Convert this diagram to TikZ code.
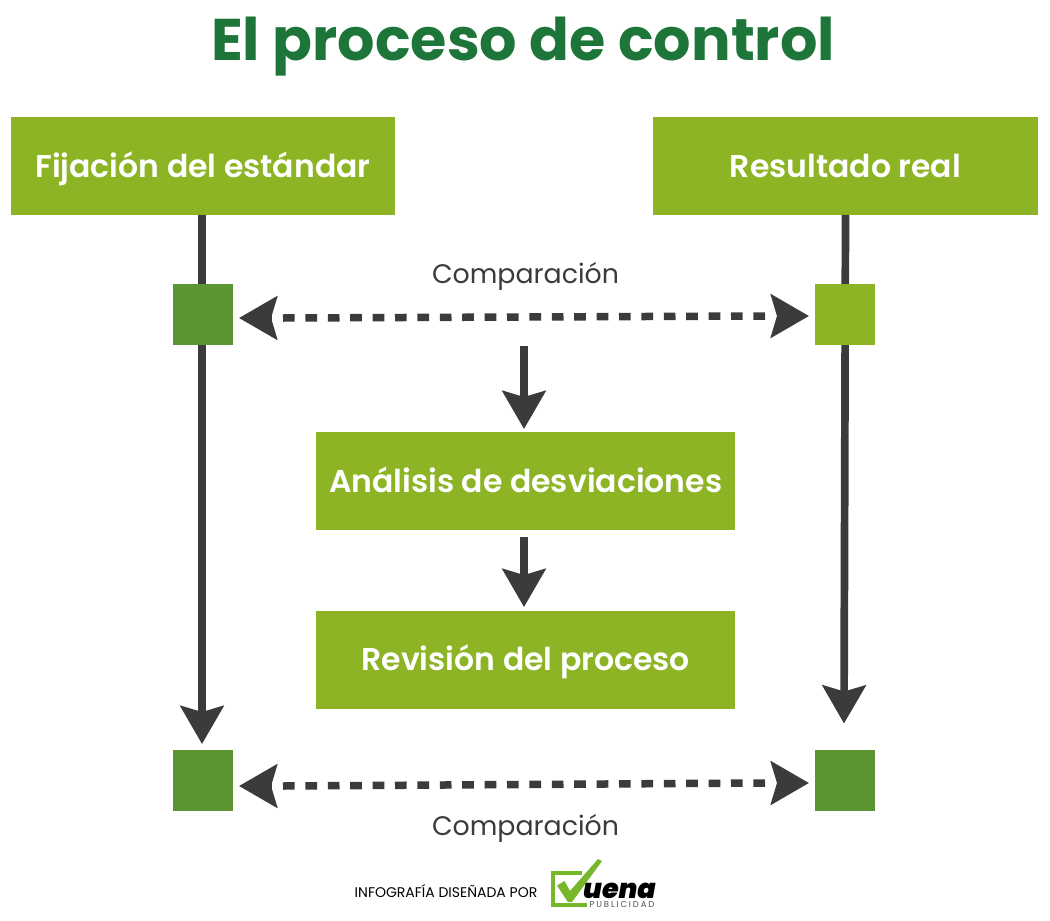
\documentclass[tikz,border=0pt]{standalone}
\usepackage{fontspec}
\setmainfont{Poppins}
\newfontfamily\semib{Poppins SemiBold}
\newfontfamily\heavy{Poppins Black Italic}
\newfontfamily\spaced[LetterSpace=22]{Poppins}
\usetikzlibrary{arrows.meta}
\definecolor{lime}{HTML}{8DB425}
\definecolor{leaf}{HTML}{5B9632}
\definecolor{titlegreen}{HTML}{1E7539}
\definecolor{ink}{HTML}{3A3B3B}
\definecolor{logogreen}{HTML}{76B82A}
\tikzset{
 x=1pt,y=-1pt,
 bigbox/.style={fill=lime,inner sep=0pt,text=white,text height=28pt,text depth=6pt,font=\semib\fontsize{31.5}{36}\selectfont},
 sq/.style={fill=#1,minimum size=60.5pt,inner sep=0pt},
 flow/.style={draw=ink,line width=7.7pt,-{Stealth[length=38pt,width=43pt,inset=6pt,fill=ink]}},
 dashline/.style={draw=ink,line width=7.5pt,dash pattern=on 11.7pt off 10.7pt},
 cmp/.style={inner sep=0pt,text=ink,font=\fontsize{26.8}{31}\selectfont},
}
\begin{document}
\begin{tikzpicture}
\useasboundingbox (0,0) rectangle (1050,921);
\fill[white] (0,0) rectangle (1050,921);
\node[inner sep=0pt,text=titlegreen,font=\bfseries\fontsize{58.8}{66}\selectfont] (title) at (523,47) {El proceso de control};
\node[bigbox,minimum width=384pt,minimum height=98pt] (fix) at (203,166) {Fijación del estándar};
\node[bigbox,minimum width=385pt,minimum height=98pt] (res) at (845.5,166) {Resultado real};
\node[bigbox,minimum width=419.5pt,minimum height=98pt] (ana) at (525.7,481) {Análisis de desviaciones};
\node[bigbox,minimum width=419.5pt,minimum height=98pt] (rev) at (525.7,659.5) {Revisión del proceso};
\coordinate (lb) at (202,744);
\coordinate (rb) at (844,723.5);
\coordinate (rt) at (845.5,215);
\coordinate (lt) at (202,215);
\draw[flow] (lt) -- (lb);
\draw[flow] (rt) -- (rb);
\node[sq=leaf] (s1) at (203,314.5) {};
\node[sq=lime] (s2) at (845,314.5) {};
\node[sq=leaf] (s3) at (203,780.5) {};
\node[sq=leaf] (s4) at (845,780.5) {};
% upper comparison
\coordinate (d1a) at (239,318);
\coordinate (d1ah) at (271.5,318);
\coordinate (d1as) at (283,318);
\coordinate (d1be) at (765,316);
\coordinate (d1bh) at (776.5,316);
\coordinate (d1b) at (809,316);
\draw[dashline] (d1as) -- (d1be);
\draw[flow] (d1ah) -- (d1a);
\draw[flow] (d1bh) -- (d1b);
% lower comparison
\coordinate (d2a) at (239,786);
\coordinate (d2ah) at (271.5,786);
\coordinate (d2as) at (283,786);
\coordinate (d2be) at (765,783);
\coordinate (d2bh) at (776.5,783);
\coordinate (d2b) at (809,783);
\draw[dashline] (d2as) -- (d2be);
\draw[flow] (d2ah) -- (d2a);
\draw[flow] (d2bh) -- (d2b);
\coordinate (c1) at (524,346);
\coordinate (c2) at (524,429);
\coordinate (c3) at (524,537);
\coordinate (c4) at (524,607);
\draw[flow] (c1) -- (c2);
\draw[flow] (c3) -- (c4);
\node[cmp] (l1) at (525.5,276.5) {Comparación};
\node[cmp] (l2) at (525.5,828.5) {Comparación};
\node[inner sep=0pt,text=black,font=\fontsize{14}{16}\selectfont] (credit) at (446,891) {INFOGRAFÍA DISEÑADA POR};
% logo
\draw[logogreen,line width=4.5pt] (587,904.8) -- (553.2,904.8) -- (553.2,873.2) -- (582,873.2);
\fill[logogreen] (557,885.5) -- (564.5,881) -- (570,891) -- (598,859) -- (602,861) -- (572,902) -- (568,902) -- cycle;
\node[inner sep=0pt,text=black,text height=15pt,text depth=0pt,font=\heavy\fontsize{27}{28}\selectfont] (uena) at (619.5,890.5) {uena};
\node[inner sep=0pt,text=black!70,text height=6pt,text depth=0pt,font=\spaced\fontsize{8.5}{9}\selectfont] (pub) at (622,904.5) {PUBLICIDAD};
\end{tikzpicture}
\end{document}
